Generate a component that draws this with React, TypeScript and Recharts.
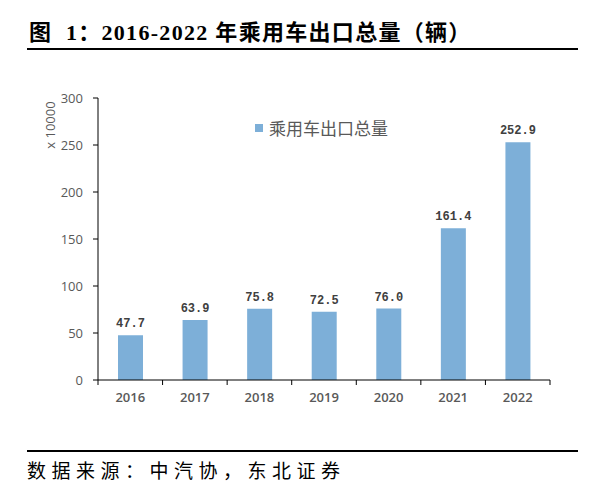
import React from "react";
import { BarChart, Bar, XAxis, YAxis, LabelList } from "recharts";

const years = ["2016", "2017", "2018", "2019", "2020", "2021", "2022"];
const exportVolume = [47.7, 63.9, 75.8, 72.5, 76.0, 161.4, 252.9];
const yTicks = [0, 50, 100, 150, 200, 250, 300];

const seriesName = "乘用车出口总量";
const barColor = "#7DAFD8";
const grey = "#595959";

const chartData = years.map((year, i) => ({ year, value: exportVolume[i] }));

// category tick: label at the centre, tick marks at the band edges
const YearTick = (props: any) => {
    const { x, y, payload, index, visibleTicksCount } = props;
    const half = payload.offset || 0;
    return (
        <g>
            <line x1={x - half} y1={y - 8} x2={x - half} y2={y - 3} stroke="#000" strokeWidth={1} />
            {index === visibleTicksCount - 1 && (
                <line x1={x + half} y1={y - 8} x2={x + half} y2={y - 3} stroke="#000" strokeWidth={1} />
            )}
            <text x={x} y={y + 14} textAnchor="middle" fill={grey} fontSize={13} fontWeight={600}
                fontFamily="'Open Sans', sans-serif">
                {payload.value}
            </text>
        </g>
    );
};

export default function App() {
    return (
        <div style={{ position: "absolute", left: 0, top: 0, width: 612, height: 490, background: "#fff" }}>
            <div style={{
                position: "absolute", left: 29, top: 18, fontSize: 22, fontWeight: 700, color: "#000",
                fontFamily: "'Liberation Serif', 'Noto Sans CJK SC', serif", whiteSpace: "nowrap", lineHeight: "30px",
                letterSpacing: 1.3,
            }}>
                图&nbsp;&nbsp;1：2016-2022 年乘用车出口总量（辆）
            </div>
            <div style={{ position: "absolute", left: 27, top: 48, width: 551, height: 2, background: "#000" }} />

            <BarChart width={612} height={490} data={chartData}
                margin={{ top: 98, right: 62, bottom: 80, left: 38 }}>
                <XAxis dataKey="year" axisLine={{ stroke: "#000" }} tickLine={false}
                    tick={<YearTick />} interval={0} height={30} />
                <YAxis domain={[0, 300]} ticks={yTicks} width={60} axisLine={{ stroke: "#000" }}
                    tickLine={{ stroke: "#000" }} tickSize={5} tickMargin={10}
                    tick={{ fill: grey, fontSize: 13, fontFamily: "'Open Sans', sans-serif" }} />
                <Bar dataKey="value" name={seriesName} fill={barColor} barSize={25} isAnimationActive={false}>
                    <LabelList dataKey="value" position="top" offset={8}
                        formatter={(v: any) => Number(v).toFixed(1)}
                        style={{ fill: "#404040", fontSize: 12, fontWeight: 700, fontFamily: "'Liberation Mono', monospace" }} />
                </Bar>
            </BarChart>

            {/* unit label */}
            <div style={{
                position: "absolute", left: 50, top: 125, transform: "translate(-50%, -50%) rotate(-90deg)",
                color: grey, fontSize: 13, fontFamily: "'Open Sans', sans-serif", whiteSpace: "nowrap",
            }}>
                x 10000
            </div>

            {/* legend */}
            <div style={{ position: "absolute", left: 255, top: 116, display: "flex", alignItems: "center", whiteSpace: "nowrap" }}>
                <span style={{ width: 8, height: 8, background: barColor, display: "inline-block", marginRight: 6 }} />
                <span style={{ color: grey, fontSize: 17, fontFamily: "'Noto Sans CJK SC', sans-serif", lineHeight: "24px" }}>
                    {seriesName}
                </span>
            </div>

            <div style={{ position: "absolute", left: 27, top: 450, width: 551, height: 2, background: "#000" }} />
            <div style={{
                position: "absolute", left: 27, top: 456, fontSize: 19, color: "#000", letterSpacing: 5.5,
                fontFamily: "'Noto Sans CJK SC', sans-serif", whiteSpace: "nowrap", lineHeight: "28px",
            }}>
                数据来源：中汽协，东北证券
            </div>
        </div>
    );
}
